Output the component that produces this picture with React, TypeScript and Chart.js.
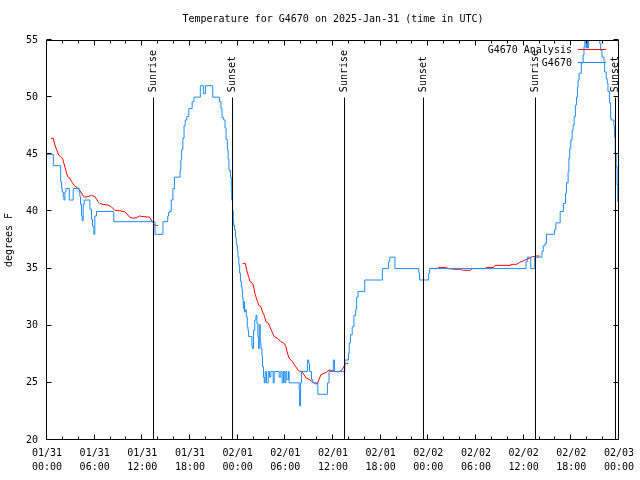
import { useEffect, useRef } from 'react';
import { Chart, registerables } from 'chart.js';

Chart.register(...registerables);

const TITLE = 'Temperature for G4670 on 2025-Jan-31 (time in UTC)';
const Y_LABEL = 'degrees F';
const ANALYSIS_NAME = 'G4670 Analysis';
const OBS_NAME = 'G4670';

const xTickHours = [0, 6, 12, 18, 24, 30, 36, 42, 48, 54, 60, 66, 72];
const xTickDates = ['01/31', '01/31', '01/31', '01/31', '02/01', '02/01', '02/01', '02/01', '02/02', '02/02', '02/02', '02/02', '02/03'];
const xTickTimes = ['00:00', '06:00', '12:00', '18:00', '00:00', '06:00', '12:00', '18:00', '00:00', '06:00', '12:00', '18:00', '00:00'];
const yTicks = [20, 25, 30, 35, 40, 45, 50, 55];

const sunHours = [13.34, 23.25, 37.42, 47.33, 61.38, 71.45];
const sunLabels = ['Sunrise', 'Sunset', 'Sunrise', 'Sunset', 'Sunrise', 'Sunset'];

// Observations (hours since 01/31 00:00 UTC, deg F)
const obsHours = [
  0, 0.8, 1.72, 1.84, 1.93, 2.05, 2.13, 2.26, 2.38, 2.8, 3.3, 4.05, 4.14, 4.22, 4.35, 4.43, 4.56, 4.68, 5.4, 5.6,
  5.73, 5.9, 6.02, 6.23, 8.41, 13.6, 14.6, 15.2, 15.3, 15.43, 15.64, 15.85, 16.05, 16.75, 16.85, 16.95, 17.1, 17.25, 17.4, 17.6,
  17.85, 18.27, 18.5, 19.3, 19.69, 19.94, 20.86, 21.7, 21.9, 22.03, 22.24, 22.41, 22.54, 22.7, 22.8, 22.9, 23.1, 23.2, 23.25, 23.35,
  23.45, 23.5, 23.6, 23.71, 23.83, 23.95, 24.04, 24.15, 24.25, 24.35, 24.46, 24.55, 24.63, 24.7, 24.75, 24.8, 24.86, 24.96, 25.09, 25.21,
  25.3, 25.38, 25.8, 25.88, 26.0, 26.15, 26.3, 26.42, 26.55, 26.64, 26.72, 26.85, 26.93, 27.06, 27.13, 27.26, 27.35, 27.47, 27.62, 27.85,
  28.0, 28.18, 28.47, 28.6, 29.23, 29.44, 29.6, 29.77, 29.94, 30.06, 30.19, 30.4, 30.48, 31.74, 31.8, 31.92, 32.03, 32.78, 32.95, 33.05,
  33.3, 33.45, 34.1, 35.3, 35.5, 36.04, 36.2, 37.5, 37.95, 38.05, 38.2, 38.42, 38.64, 38.85, 38.98, 39.15, 40.0, 42.22, 43.0, 43.15,
  43.8, 46.8, 46.91, 48.05, 48.17, 60.3, 60.46, 60.9, 61.4, 62.3, 62.47, 62.7, 62.88, 63.9, 64.06, 64.6, 65.0, 65.27, 65.4, 65.6,
  65.7, 65.8, 65.94, 66.1, 66.23, 66.36, 66.52, 66.65, 66.77, 66.86, 66.98, 67.27, 67.49, 67.6, 67.7, 67.85, 67.95, 68.05, 68.15, 69.45,
  69.58, 69.7, 69.87, 70.12, 70.2, 70.4, 70.53, 70.62, 70.8, 70.95, 71.03, 71.36, 71.45, 71.53, 71.65, 71.77, 71.85, 72
];
const obsTemps = [
  45, 44, 42.6, 42, 41.7, 41.3, 41, 41.7, 42, 41, 42, 41.7, 41.3, 40.6, 39.6, 39.2, 40.6, 41, 40.2, 39.3,
  38.7, 38, 39.6, 40, 39.1, 38, 39.1, 39.6, 39.9, 40, 41, 42, 43, 43.6, 44.5, 45.4, 46.4, 47.5, 48, 48.3,
  49, 49.6, 50, 51, 50.3, 51, 50, 49.6, 49, 48.2, 48, 47.3, 46.3, 45.4, 44.6, 43.6, 43, 42.2, 41, 40.1,
  39.2, 38.8, 38.4, 37.7, 37.1, 36.6, 36, 35.3, 34.6, 33.9, 33.4, 33.1, 32.4, 31.8, 31.5, 32.1, 31.2, 31.4, 30.8, 29.9,
  29.6, 29.05, 28.2, 28, 29.6, 30.5, 30.9, 30.2, 29.05, 28, 30.1, 28.5, 28, 27.3, 26.4, 25.5, 25, 26, 25, 26,
  25.5, 26, 25, 26, 25.5, 26, 25, 26, 25, 26, 25.3, 26, 25, 24.4, 23, 25, 26, 27, 26.7, 26,
  25.3, 25, 24, 25, 26, 27, 26, 27, 27.6, 28.5, 29.2, 29.9, 30.9, 31.4, 32.5, 33, 34, 35, 35.6, 36,
  35, 34.6, 34, 34.6, 35, 35.6, 36, 35, 36, 36.5, 37, 37.2, 38, 38.4, 39, 40, 40.7, 41.6, 42.5, 43.5,
  44.65, 45.5, 46.25, 47.1, 47.56, 48.3, 49.3, 50, 50.9, 51.5, 52.1, 53, 53.7, 54.4, 56, 54.3, 56, 54.3, 56, 56,
  54.7, 54.1, 53.5, 53, 52.2, 51.6, 51.2, 50.5, 49.5, 48.15, 48, 47.5, 46.5, 45.1, 43.9, 42.3, 40.85, 40.85
];

// Analysis (null = no analysis available)
const anaHours = [
  0.5, 0.8, 1.0, 1.21, 1.5, 1.71, 1.96, 2.13, 2.38, 2.59, 2.89, 3.09, 3.3, 3.51, 3.8, 4.05, 4.35, 4.56, 4.77, 5.19,
  5.6, 6.02, 6.23, 6.44, 6.65, 7.07, 7.69, 8.11, 8.53, 9.16, 9.79, 10.41, 10.83, 11.25, 11.67, 12.08, 12.92, 13.13, 13.29, 13.55,
  13.96, 19.0,
  24.63, 24.96, 25.13, 25.38, 25.55, 25.88, 26.01, 26.22, 26.51, 26.64, 26.93, 27.13, 27.35, 27.56, 27.89, 28.06, 28.31, 28.6, 29.02, 29.44,
  29.85, 30.07, 30.27, 30.48, 30.9, 31.32, 31.65, 32.07, 32.36, 32.65, 32.99, 33.41, 33.83, 34.03, 34.25, 34.46, 34.75, 35.09, 35.5, 35.91,
  36.34, 36.75, 37.09, 37.38, 37.51, 37.67, 37.92, 43.0,
  48.3, 49.2, 49.3, 50.2, 50.5, 51.3, 52.2, 52.3, 53.3, 53.4, 53.6, 55.2, 55.3, 56.2, 56.4, 58.3, 58.4, 59.1, 59.5, 60.2,
  60.7, 61.1, 61.6, 62.0
];
const anaTemps = [
  46.4, 46.4, 45.8, 45.4, 44.9, 44.8, 44.65, 44.2, 43.6, 43.05, 42.9, 42.6, 42.4, 42.2, 42.1, 41.9, 41.6, 41.35, 41.24, 41.3,
  41.4, 41.3, 41.07, 40.85, 40.7, 40.6, 40.56, 40.4, 40.1, 40.06, 39.97, 39.5, 39.4, 39.45, 39.6, 39.55, 39.5, 39.25, 39.1, 38.8,
  38.75, null,
  35.46, 35.46, 34.88, 34.3, 33.86, 33.7, 33.4, 32.7, 32.1, 31.8, 31.67, 31.2, 30.9, 30.35, 30.2, 29.9, 29.5, 29.05, 28.9, 28.6,
  28.46, 28.17, 27.6, 27.15, 26.86, 26.4, 26.07, 25.98, 25.7, 25.4, 25.3, 25.1, 24.9, 24.95, 25.3, 25.7, 25.8, 25.9, 26.13, 26.07,
  25.98, 25.98, 26.1, 26.4, 26.65, 26.7, 26.7, null,
  35.0, 35.0, 35.1, 35.1, 35.0, 34.94, 34.94, 34.85, 34.85, 34.94, 35.0, 35.0, 35.1, 35.1, 35.28, 35.28, 35.37, 35.37, 35.55, 35.75,
  35.9, 36.04, 36.1, 36.1
];

const FONT = "'DejaVu Sans Mono', monospace";
const BLUE = '#1e8cff';
const RED = '#ff0000';

const decorPlugin = {
  id: 'gnuplotDecor',
  afterDatasetsDraw(chart: any) {
    const { ctx } = chart;
    const xs = chart.scales.x;
    const ys = chart.scales.y;
    ctx.save();
    ctx.strokeStyle = '#000';
    ctx.lineWidth = 1;
    ctx.fillStyle = '#000';
    ctx.font = `10px ${FONT}`;
    const yTop = ys.getPixelForValue(50);
    const yBot = ys.getPixelForValue(20);
    sunHours.forEach((h, i) => {
      const x = Math.round(xs.getPixelForValue(h)) + 0.5;
      ctx.beginPath();
      ctx.moveTo(x, Math.round(yTop) + 0.5);
      ctx.lineTo(x, yBot);
      ctx.stroke();
      ctx.save();
      ctx.translate(x, yTop - 5);
      ctx.rotate(-Math.PI / 2);
      ctx.textAlign = 'left';
      ctx.textBaseline = 'middle';
      ctx.fillText(sunLabels[i], 0, 0);
      ctx.restore();
    });
    ctx.restore();
  },
  afterDraw(chart: any) {
    const { ctx, chartArea: a } = chart;
    const xs = chart.scales.x;
    const ys = chart.scales.y;
    ctx.save();
    ctx.strokeStyle = '#000';
    ctx.lineWidth = 1;
    const L = Math.round(a.left) - 0.5;
    const R = Math.round(a.right) - 0.5;
    const T = Math.round(a.top) + 0.5;
    const B = Math.round(a.bottom) - 0.5;
    ctx.beginPath();
    for (let h = 0; h <= 72; h += 2) {
      const x = Math.round(xs.getPixelForValue(h)) - 0.5;
      const len = h % 6 === 0 ? 5 : 3;
      ctx.moveTo(x, B);
      ctx.lineTo(x, B - len);
      ctx.moveTo(x, T);
      ctx.lineTo(x, T + len);
    }
    yTicks.forEach((v) => {
      const y = Math.round(ys.getPixelForValue(v)) - 0.5;
      ctx.moveTo(L, y);
      ctx.lineTo(L + 5, y);
      ctx.moveTo(R, y);
      ctx.lineTo(R - 5, y);
    });
    ctx.stroke();
    ctx.strokeRect(L, T, R - L, B - T);

    ctx.fillStyle = '#000';
    ctx.font = `10px ${FONT}`;
    ctx.textAlign = 'center';
    ctx.textBaseline = 'middle';
    ctx.fillText(TITLE, (a.left + a.right) / 2, 19);
    ctx.save();
    ctx.translate(9, (a.top + a.bottom) / 2);
    ctx.rotate(-Math.PI / 2);
    ctx.fillText(Y_LABEL, 0, 0);
    ctx.restore();
    ctx.textAlign = 'right';
    ctx.fillText(ANALYSIS_NAME, a.right - 47, a.top + 10);
    ctx.fillText(OBS_NAME, a.right - 47, a.top + 23);
    ctx.strokeStyle = RED;
    ctx.beginPath();
    ctx.moveTo(a.right - 41, a.top + 9.5);
    ctx.lineTo(a.right - 13, a.top + 9.5);
    ctx.stroke();
    ctx.strokeStyle = BLUE;
    ctx.beginPath();
    ctx.moveTo(a.right - 41, a.top + 22.5);
    ctx.lineTo(a.right - 13, a.top + 22.5);
    ctx.stroke();
    ctx.restore();
  },
};

export default function App() {
  const ref = useRef<HTMLCanvasElement | null>(null);
  useEffect(() => {
    if (!ref.current) return;
    const chart = new Chart(ref.current, {
      type: 'line',
      data: {
        datasets: [
          {
            label: OBS_NAME,
            data: obsHours.map((h, i) => ({ x: h, y: obsTemps[i] })),
            borderColor: BLUE,
            borderWidth: 1,
            pointRadius: 0,
            stepped: 'before',
            order: 0,
          },
          {
            label: ANALYSIS_NAME,
            data: anaHours.map((h, i) => ({ x: h, y: anaTemps[i] })),
            borderColor: RED,
            borderWidth: 1,
            pointRadius: 0,
            tension: 0,
            spanGaps: false,
            order: 1,
          },
        ],
      } as any,
      options: {
        responsive: false,
        animation: false,
        devicePixelRatio: 1,
        layout: { padding: { left: 0, right: 18, top: 40, bottom: 0 } },
        plugins: { legend: { display: false }, title: { display: false }, tooltip: { enabled: false } },
        events: [],
        scales: {
          x: {
            type: 'linear',
            min: 0,
            max: 72,
            afterFit: (s: any) => {
              s.height = 40;
            },
            afterBuildTicks: (s: any) => {
              s.ticks = xTickHours.map((v) => ({ value: v }));
            },
            ticks: {
              autoSkip: false,
              maxRotation: 0,
              minRotation: 0,
              padding: 6,
              color: '#000',
              font: { family: FONT, size: 10, lineHeight: 1.4 },
              callback: (v: any) => {
                const i = xTickHours.indexOf(Number(v));
                return i >= 0 ? [xTickDates[i], xTickTimes[i]] : '';
              },
            },
            grid: { display: false, drawTicks: false },
            border: { display: false },
          },
          y: {
            type: 'linear',
            min: 20,
            max: 55,
            afterFit: (s: any) => {
              s.width = 47;
            },
            afterBuildTicks: (s: any) => {
              s.ticks = yTicks.map((v) => ({ value: v }));
            },
            ticks: {
              padding: 9,
              color: '#000',
              font: { family: FONT, size: 10 },
            },
            grid: { display: false, drawTicks: false },
            border: { display: false },
          },
        },
      } as any,
      plugins: [decorPlugin],
    });
    return () => chart.destroy();
  }, []);
  return (
    <div style={{ position: 'absolute', left: 0, top: 0, width: 640, height: 480, background: '#fff' }}>
      <canvas ref={ref} width={640} height={480} style={{ width: 640, height: 480, display: 'block' }} />
    </div>
  );
}
